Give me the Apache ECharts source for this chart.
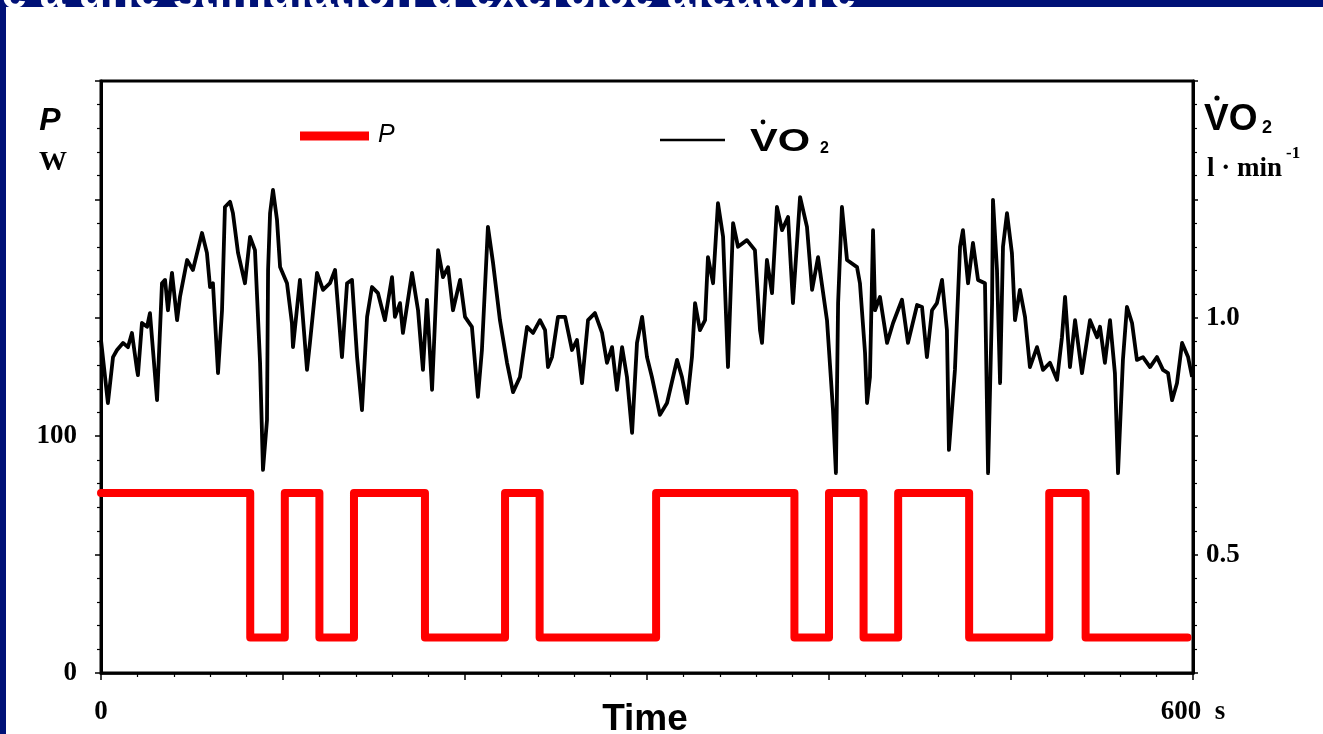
<!DOCTYPE html>
<html>
<head>
<meta charset="utf-8">
<script src="https://cdn.jsdelivr.net/npm/echarts@6/dist/echarts.min.js"></script>
<style>
  html, body { margin: 0; padding: 0; background: #ffffff; }
  #chart { width: 1323px; height: 734px; }
</style>
</head>
<body>
<div id="chart"></div>
<script>
// Work rate P (W): each level is held from its switch time until the next switch
const pSwitchTimes = [0, 82, 101, 120, 139, 178, 222, 241, 305, 381, 400, 419, 438, 477, 521, 541];
const pLevels      = [76, 15, 76, 15, 76, 15, 76, 15, 76, 15, 76, 15, 76, 15, 76, 15];
const pEndTime = 597;

// Oxygen uptake (l/min) against time (s)
const vo2Times = [
  0, 3.8, 6.6, 8.8, 12.1, 14.8, 17.0, 19.8, 20.3, 22.5,
  25.3, 26.9, 30.8, 31.3, 33.5, 35.2, 36.8, 39.0, 41.8, 43.4,
  47.3, 50.5, 55.5, 58.2, 59.9, 61.5, 64.3, 66.5, 68.1, 70.9,
  72.5, 75.3, 79.1, 81.9, 84.6, 87.4, 89.0, 91.2, 91.8, 92.9,
  94.5, 96.7, 98.4, 102.2, 104.9, 105.5, 109.3, 113.2, 114.8, 118.7,
  122.0, 125.8, 128.6, 132.4, 135.2, 137.9, 140.7, 143.4, 146.2, 148.9,
  152.2, 156.0, 159.9, 161.5, 164.3, 165.9, 170.9, 174.2, 176.9, 179.1,
  181.9, 185.2, 187.9, 190.7, 193.4, 197.3, 200.0, 203.8, 207.1,
  209.3, 212.6,
  215.4, 219.2, 223.1, 226.4, 230.2, 234.1, 237.4, 241.2, 244.0, 245.6,
  247.8, 251.1, 255.0, 258.8, 261.5, 264.3, 267.6, 271.4, 275.3, 278.0,
  280.8, 283.5, 286.3, 289.0, 291.8, 294.5, 297.3, 300.0, 302.7, 307.1,
  311.0, 316.5, 319.2, 322.0, 324.7, 326.4, 329.1, 331.9, 333.5, 336.3,
  339.0, 341.8, 344.5, 347.3, 350.0, 354.9, 359.3, 362.1, 363.2, 365.9,
  368.7, 371.4, 374.2, 377.5, 380.2, 384.1, 387.9, 390.7, 394.0, 398.9,
  402.2, 403.8, 405.0, 407.1, 409.9, 415.4,
  417.0, 419.8, 420.9, 422.5, 424.2, 425.3, 428.0, 431.9, 435.2, 440.1,
  443.4, 448.4, 451.1, 453.8, 456.6, 459.3, 462.1, 464.8, 465.9, 469.2,
  472.0, 473.6, 476.4, 479.1, 481.9, 485.7, 487.4, 489.6, 490.1, 492.3,
  494.0, 495.6, 497.8, 500.5, 502.2, 504.9, 507.7, 510.4, 514.3, 517.6,
  521.4, 525.3, 528.0, 529.7, 532.4, 535.2, 539.0, 543.4, 547.3, 548.9,
  551.6, 554.4, 557.1, 558.8, 561.5, 563.7, 566.5, 569.2, 572.5, 576.4,
  580.2, 583.5, 586.3, 588.5, 591.2, 594.0, 597.3, 599.5
];
const vo2Values = [
  0.953, 0.820, 0.917, 0.932, 0.947, 0.938, 0.968, 0.890, 0.879, 0.989,
  0.981, 1.010, 0.826, 0.822, 1.073, 1.080, 1.016, 1.095, 0.995, 1.044,
  1.122, 1.101, 1.179, 1.137, 1.065, 1.073, 0.883, 1.016, 1.234, 1.245,
  1.221, 1.137, 1.073, 1.171, 1.143, 0.905, 0.679, 0.784, 1.101, 1.221,
  1.270, 1.207, 1.107, 1.073, 0.989, 0.938, 1.080, 0.890, 0.947, 1.095,
  1.059, 1.073, 1.101, 0.917, 1.073, 1.080, 0.917, 0.805, 1.002, 1.065,
  1.052, 0.995, 1.086, 1.002, 1.031, 0.968, 1.095, 1.016, 0.890, 1.038,
  0.848, 1.143, 1.086, 1.107, 1.016, 1.080, 1.002, 0.981, 0.833,
  0.932, 1.192,
  1.116, 0.995, 0.905, 0.843, 0.875, 0.981, 0.968, 0.995, 0.974, 0.896,
  0.917, 1.002, 1.002, 0.932, 0.953, 0.862, 0.995, 1.010, 0.968, 0.905,
  0.938, 0.848, 0.938, 0.875, 0.757, 0.947, 1.002, 0.917, 0.875, 0.795,
  0.820, 0.911, 0.875, 0.820, 0.917, 1.031, 0.974, 0.995, 1.128, 1.073,
  1.242, 1.171, 0.896, 1.200, 1.150, 1.164, 1.143, 0.974, 0.947, 1.122,
  1.052, 1.234, 1.185, 1.213, 1.031, 1.255, 1.192, 1.059, 1.128, 0.995,
  0.805, 0.672, 1.031, 1.234, 1.122, 1.107,
  1.073, 0.926, 0.820, 0.875, 1.185, 1.016, 1.044, 0.947, 0.989, 1.038,
  0.947, 1.027, 1.023, 0.917, 1.016, 1.031, 1.080, 0.974, 0.721, 0.890,
  1.150, 1.185, 1.073, 1.158, 1.080, 1.073, 0.672, 1.031, 1.249, 1.101,
  0.862, 1.150, 1.221, 1.137, 0.995, 1.059, 1.002, 0.896, 0.938, 0.890,
  0.905, 0.869, 0.959, 1.044, 0.896, 0.995, 0.883, 0.995, 0.959, 0.981,
  0.905, 0.995, 0.883, 0.672, 0.911, 1.023, 0.989, 0.911, 0.917, 0.896,
  0.917, 0.890, 0.883, 0.826, 0.862, 0.947, 0.917, 0.875
];

// Axis ranges and the tick values that carry a label
const timeRange = [0, 600];
const pRange = [0, 250];
const vo2Range = [0.25, 1.5];
const timeTickLabels = [0, 600];
const pTickLabels = [0, 100];
const vo2TickLabels = [0.5, 1.0];

const NAVY = '#001177';
const SERIF = '"Liberation Serif", "DejaVu Serif", serif';
const SANS = '"Liberation Sans", Arial, sans-serif';

const pData = pSwitchTimes.map((t, i) => [t, pLevels[i]]);
pData.push([pEndTime, pLevels[pLevels.length - 1]]);
const vo2Data = vo2Times.map((t, i) => [t, vo2Values[i]]);

const isLabelled = (list, v) => list.some(l => Math.abs(l - v) < 1e-6);

const chart = echarts.init(document.getElementById('chart'), null, { renderer: 'canvas' });

chart.setOption({
  animation: false,
  backgroundColor: '#ffffff',
  grid: {
    left: 101, right: 130, top: 81, bottom: 61,
    show: true, borderColor: '#000', borderWidth: 3, backgroundColor: 'transparent'
  },
  xAxis: {
    type: 'value',
    min: timeRange[0], max: timeRange[1], interval: 100,
    axisLine: { show: true, lineStyle: { color: '#000', width: 2.5 } },
    axisTick: { show: true, length: 7, lineStyle: { color: '#000', width: 1.5 } },
    minorTick: { show: true, splitNumber: 5, length: 4, lineStyle: { color: '#000', width: 1.2 } },
    splitLine: { show: false },
    axisLabel: {
      margin: 26,
      color: '#000',
      fontFamily: SERIF, fontWeight: 'bold', fontSize: 27,
      formatter: v => {
        if (!isLabelled(timeTickLabels, v)) return '';
        return v === timeRange[1] ? v + '  s' : String(v);
      }
    }
  },
  yAxis: [
    {
      type: 'value',
      min: pRange[0], max: pRange[1], interval: 50,
      axisLine: { show: true, lineStyle: { color: '#000', width: 3 } },
      axisTick: { show: true, length: 6, lineStyle: { color: '#000', width: 1.5 } },
      minorTick: { show: true, splitNumber: 5, length: 4, lineStyle: { color: '#000', width: 1.2 } },
      splitLine: { show: false },
      axisLabel: {
        margin: 24,
        color: '#000',
        fontFamily: SERIF, fontWeight: 'bold', fontSize: 27,
        formatter: v => isLabelled(pTickLabels, v) ? String(v) : ''
      }
    },
    {
      type: 'value',
      position: 'right',
      min: vo2Range[0], max: vo2Range[1], interval: 0.25,
      axisLine: { show: true, lineStyle: { color: '#000', width: 3 } },
      axisTick: { show: true, length: 5, lineStyle: { color: '#000', width: 1.5 } },
      minorTick: { show: true, splitNumber: 5, length: 4, lineStyle: { color: '#000', width: 1.2 } },
      splitLine: { show: false },
      axisLabel: {
        margin: 13,
        color: '#000',
        fontFamily: SERIF, fontWeight: 'bold', fontSize: 27,
        formatter: v => isLabelled(vo2TickLabels, v) ? v.toFixed(1) : ''
      }
    }
  ],
  series: [
    {
      name: 'P',
      type: 'line',
      yAxisIndex: 0,
      step: 'end',
      data: pData,
      showSymbol: false,
      lineStyle: { color: '#ff0000', width: 8, join: 'round', cap: 'round' },
      z: 3
    },
    {
      name: 'VO2',
      type: 'line',
      yAxisIndex: 1,
      data: vo2Data,
      showSymbol: false,
      lineStyle: { color: '#000000', width: 3.8, join: 'round' },
      z: 4
    }
  ],
  graphic: [
    // navy frame along the top and left edges, with the slide heading running out above
    { type: 'rect', shape: { x: 0, y: 0, width: 1323, height: 7 }, style: { fill: NAVY }, z: 0 },
    { type: 'rect', shape: { x: 0, y: 0, width: 6, height: 734 }, style: { fill: NAVY }, z: 0 },
    {
      type: 'text', x: 856, y: 18, z: 1,
      style: {
        text: "Réponse de la consommation d'oxygène à une stimulation d'exercice aléatoire",
        fill: '#ffffff', font: 'bold 46px ' + SANS,
        textAlign: 'right', textVerticalAlign: 'bottom'
      }
    },
    // left axis title
    { type: 'text', x: 50, y: 121, style: { text: 'P', fill: '#000', font: 'italic bold 32px ' + SANS, textAlign: 'center', textVerticalAlign: 'middle' } },
    { type: 'text', x: 53, y: 163, style: { text: 'W', fill: '#000', font: 'bold 28px ' + SERIF, textAlign: 'center', textVerticalAlign: 'middle' } },
    // right axis title
    { type: 'text', x: 1204, y: 120, style: { text: 'VO', fill: '#000', font: 'bold 37px ' + SANS, textAlign: 'left', textVerticalAlign: 'middle' } },
    { type: 'circle', shape: { cx: 1217, cy: 98, r: 2.6 }, style: { fill: '#000' } },
    { type: 'text', x: 1262, y: 128, style: { text: '2', fill: '#000', font: 'bold 18px ' + SANS, textAlign: 'left', textVerticalAlign: 'middle' } },
    { type: 'text', x: 1207, y: 169, style: { text: 'l · min', fill: '#000', font: 'bold 27px ' + SERIF, textAlign: 'left', textVerticalAlign: 'middle' } },
    { type: 'text', x: 1286, y: 154, style: { text: '-1', fill: '#000', font: 'bold 17px ' + SERIF, textAlign: 'left', textVerticalAlign: 'middle' } },
    // x axis title
    { type: 'text', x: 645, y: 720, style: { text: 'Time', fill: '#000', font: 'bold 37px ' + SANS, textAlign: 'center', textVerticalAlign: 'middle' } },
    // legend
    { type: 'line', shape: { x1: 300, y1: 136, x2: 369, y2: 136 }, style: { stroke: '#ff0000', lineWidth: 9 } },
    { type: 'text', x: 378, y: 135, style: { text: 'P', fill: '#000', font: 'italic 25px ' + SANS, textAlign: 'left', textVerticalAlign: 'middle' } },
    { type: 'line', shape: { x1: 660, y1: 140, x2: 725, y2: 140 }, style: { stroke: '#000', lineWidth: 2.5 } },
    { type: 'text', x: 750, y: 142, scaleX: 1.3, originX: 0, originY: 0, style: { text: 'VO', fill: '#000', font: 'bold 32px ' + SANS, textAlign: 'left', textVerticalAlign: 'middle' } },
    { type: 'circle', shape: { cx: 763, cy: 122, r: 2.4 }, style: { fill: '#000' } },
    { type: 'text', x: 820, y: 149, style: { text: '2', fill: '#000', font: 'bold 16px ' + SANS, textAlign: 'left', textVerticalAlign: 'middle' } }
  ]
});
</script>
</body>
</html>
